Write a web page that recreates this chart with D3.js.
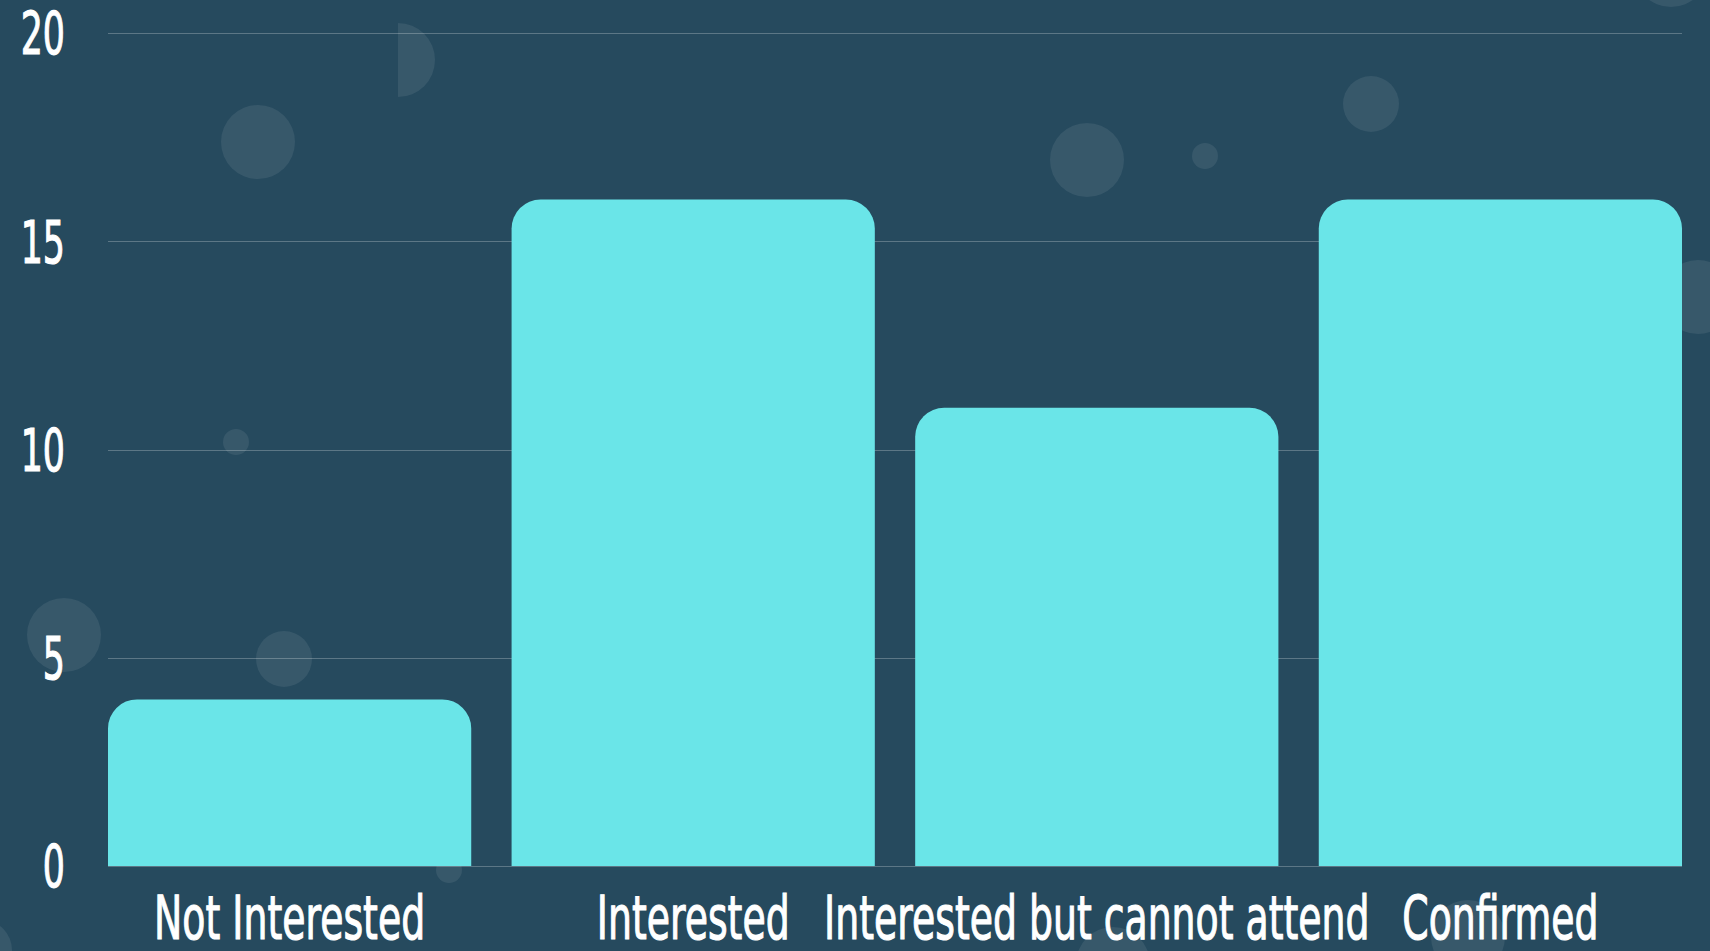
<!DOCTYPE html>
<html>
<head>
<meta charset="utf-8">
<script src="https://cdn.jsdelivr.net/npm/d3@7"></script>
<style>
  html, body { margin: 0; padding: 0; background: #264a5e; overflow: hidden; }
  svg { display: block; }
  .tick text { font-family: "DejaVu Sans", sans-serif; fill: #fff; stroke: #fff; stroke-width: 1.2px; }
</style>
</head>
<body>
<svg id="chart"></svg>
<script>
var categories = ["Not Interested", "Interested", "Interested but cannot attend", "Confirmed"];
var counts = [4, 16, 11, 16];
var yTicks = [0, 5, 10, 15, 20];

// decorative bubbles: [cx, cy, r, half]
var bubbles = [
  [258, 142, 37, 0], [398, 60, 37, 1], [1087, 160, 37, 0], [1205, 156, 13, 0],
  [1371, 104, 28, 0], [1671, -30, 37, 0], [1698, 297, 37, 0], [236, 442, 13, 0],
  [64, 635, 37, 0], [284, 659, 28, 0], [449, 870, 13, 0], [-18, 950, 30, 0],
  [1113, 964, 37, 0], [1468, 937, 37, 0]
];

var width = 1710, height = 951;
var margin = { top: 33, right: 28, bottom: 85, left: 108 };

var svg = d3.select("#chart")
  .attr("width", width)
  .attr("height", height);

svg.append("rect")
  .attr("width", width)
  .attr("height", height)
  .attr("fill", "#264a5e");

// bubbles sit behind everything
var bubbleLayer = svg.append("g");
bubbles.forEach(function(b) {
  if (b[3]) {
    bubbleLayer.append("path")
      .attr("transform", "translate(" + b[0] + "," + b[1] + ")")
      .attr("d", d3.arc()({ innerRadius: 0, outerRadius: b[2], startAngle: 0, endAngle: Math.PI }))
      .attr("fill", "#fff")
      .attr("fill-opacity", 0.08);
  } else {
    bubbleLayer.append("circle")
      .attr("cx", b[0]).attr("cy", b[1]).attr("r", b[2])
      .attr("fill", "#fff")
      .attr("fill-opacity", 0.08);
  }
});

var x = d3.scaleBand()
  .domain(categories)
  .range([margin.left, width - margin.right])
  .paddingInner(0.1)
  .paddingOuter(0);

var y = d3.scaleLinear()
  .domain([0, 20])
  .range([height - margin.bottom, margin.top]);

// gridlines
svg.append("g")
  .selectAll("line")
  .data(yTicks)
  .join("line")
  .attr("x1", margin.left)
  .attr("x2", width - margin.right)
  .attr("y1", function(d) { return Math.round(y(d)) + 0.5; })
  .attr("y2", function(d) { return Math.round(y(d)) + 0.5; })
  .attr("stroke", "#fff")
  .attr("stroke-opacity", 0.25)
  .attr("stroke-width", 1);

function topRoundedBar(x0, y0, w, h, r) {
  r = Math.min(r, w / 2, h);
  return "M" + x0 + "," + (y0 + h) +
    "V" + (y0 + r) +
    "A" + r + "," + r + " 0 0 1 " + (x0 + r) + "," + y0 +
    "H" + (x0 + w - r) +
    "A" + r + "," + r + " 0 0 1 " + (x0 + w) + "," + (y0 + r) +
    "V" + (y0 + h) + "Z";
}

svg.append("g")
  .selectAll("path")
  .data(counts)
  .join("path")
  .attr("fill", "#6ae5e8")
  .attr("d", function(d, i) {
    var top = y(d);
    return topRoundedBar(x(categories[i]), top, x.bandwidth(), y(0) - top, 29);
  });

// y axis labels (condensed look, squeezed horizontally)
var yAxis = svg.append("g")
  .attr("transform", "translate(65,0)")
  .call(d3.axisLeft(y).tickValues(yTicks).tickSize(0).tickPadding(0));
yAxis.select(".domain").remove();
yAxis.selectAll("text")
  .attr("font-size", 58)
  .attr("x", 0)
  .attr("dy", "0.36em")
  .attr("text-anchor", "end")
  .attr("transform", "scale(0.6,1)");

// x axis labels
var xAxis = svg.append("g")
  .attr("transform", "translate(0," + y(0) + ")")
  .call(d3.axisBottom(x).tickSize(0).tickPadding(0));
xAxis.select(".domain").remove();
xAxis.selectAll("text")
  .attr("font-size", 60)
  .attr("y", 73)
  .attr("dy", 0)
  .attr("transform", "scale(0.63,1)");
</script>
</body>
</html>
